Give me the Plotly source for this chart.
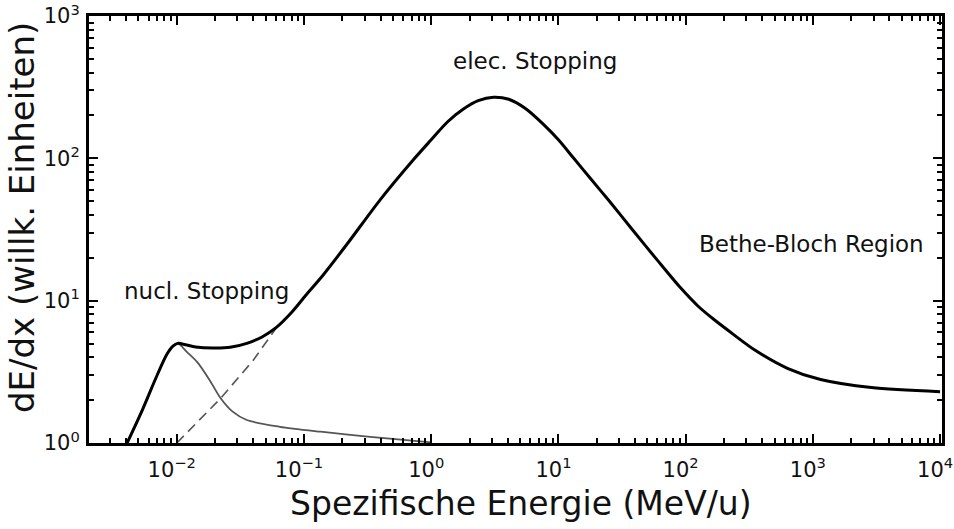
import math
import plotly.graph_objects as go

# Stopping-power curves (energy in MeV/u, dE/dx in arbitrary units)
total_energy = [0.00407, 0.00537, 0.00692, 0.00832, 0.00933, 0.0102, 0.0117, 0.0141,
                0.0191, 0.0263, 0.0355, 0.0468, 0.0603, 0.0794, 0.105, 0.141, 0.219,
                0.398, 0.724, 1.0, 1.34, 1.78, 2.34, 3.09, 4.07, 5.50, 7.59, 10.0,
                13.2, 17.8, 25.1, 37.2, 60.3, 91.2, 126, 166, 240, 347, 631, 1150,
                2880, 10000]
total_dedx = [1.0, 1.71, 2.92, 4.17, 4.79, 5.01, 4.9, 4.73,
              4.65, 4.7, 5.01, 5.56, 6.46, 8.22, 11.1, 15.1, 25.1,
              51.3, 97.7, 135, 180, 221, 254, 269, 260, 224, 174, 135,
              100, 72.4, 50.1, 32.4, 19.1, 12.3, 9.1, 7.4, 5.75, 4.52, 3.35, 2.79,
              2.45, 2.29]

nuclear_energy = [0.00407, 0.00537, 0.00692, 0.00832, 0.00933, 0.0102, 0.0120, 0.0145,
                  0.0182, 0.0219, 0.0275, 0.0355, 0.0646, 0.135, 0.316, 1.0]
nuclear_dedx = [1.0, 1.71, 2.92, 4.17, 4.79, 5.01, 4.37, 3.7,
                2.75, 2.09, 1.66, 1.45, 1.30, 1.20, 1.11, 1.01]

electronic_energy = [0.01, 0.0219, 0.0398, 0.0603]
electronic_dedx = [1.0, 2.04, 3.8, 6.4]

x_tick_values = [0.01, 0.1, 1, 10, 100, 1000, 10000]
x_tick_text = ["10<sup>−2</sup>", "10<sup>−1</sup>", "10<sup>0</sup>", "10<sup>1</sup>",
               "10<sup>2</sup>", "10<sup>3</sup>", "10<sup>4</sup>"]
y_tick_values = [1, 10, 100, 1000]
y_tick_text = ["10<sup>0</sup>", "10<sup>1</sup>", "10<sup>2</sup>", "10<sup>3</sup>"]

region_labels = ["nucl. Stopping", "elec. Stopping", "Bethe-Bloch Region"]
region_label_x = [0.0170, 6.6, 982]
region_label_y = [11.7, 483, 25.0]

FONT = "DejaVu Sans"
INK = "#111111"

W, H = 954, 529
ML, MR, MT, MB = 89, 12, 16, 86


def paper_x(px):
    return (px - ML) / (W - ML - MR)


def paper_y(py):
    return 1 - (py - MT) / (H - MT - MB)


fig = go.Figure()

fig.add_trace(go.Scatter(
    x=electronic_energy, y=electronic_dedx, mode="lines",
    line=dict(color="#555555", width=1.6, dash="10px,6px"),
    hoverinfo="skip", showlegend=False))

fig.add_trace(go.Scatter(
    x=nuclear_energy, y=nuclear_dedx, mode="lines",
    line=dict(color="#555555", width=1.8, shape="spline", smoothing=0.8),
    hoverinfo="skip", showlegend=False))

fig.add_trace(go.Scatter(
    x=total_energy, y=total_dedx, mode="lines",
    line=dict(color="black", width=3, shape="spline", smoothing=0.8),
    hoverinfo="skip", showlegend=False))

# region labels (log axes take log10 positions for annotations)
for label, lx, ly in zip(region_labels, region_label_x, region_label_y):
    fig.add_annotation(x=math.log10(lx), y=math.log10(ly), xref="x", yref="y", text=label,
                       showarrow=False, font=dict(family=FONT, size=23, color=INK),
                       xanchor="center", yanchor="middle")

fig.add_annotation(x=paper_x(521), y=paper_y(503), xref="paper", yref="paper",
                   text="Spezifische Energie (MeV/u)", showarrow=False,
                   xanchor="center", yanchor="middle",
                   font=dict(family=FONT, size=33, color=INK))
fig.add_annotation(x=paper_x(22), y=paper_y(218), xref="paper", yref="paper",
                   text="dE/dx (willk. Einheiten)", textangle=-90, showarrow=False,
                   xanchor="center", yanchor="middle",
                   font=dict(family=FONT, size=34, color=INK))

axis_common = dict(
    type="log", showgrid=False, zeroline=False, automargin=False,
    showline=True, linewidth=3, linecolor="black", mirror="allticks",
    ticks="inside", ticklen=9, tickwidth=2, tickcolor="black",
    tickfont=dict(family=FONT, size=21, color=INK),
    ticklabeloverflow="allow",
    minor=dict(ticks="inside", ticklen=5, tickwidth=1.5, tickcolor="black", dtick="D1"),
)

fig.update_xaxes(range=[-2.69, 4.015], tickmode="array", tickvals=x_tick_values,
                 ticktext=x_tick_text, ticklabelstandoff=6, ticklabelshift=-5,
                 **axis_common)
fig.update_yaxes(range=[0, 3], tickmode="array", tickvals=y_tick_values,
                 ticktext=y_tick_text, ticklabelstandoff=2, **axis_common)

fig.update_layout(
    width=W, height=H,
    margin=dict(l=ML, r=MR, t=MT, b=MB, autoexpand=False),
    paper_bgcolor="white", plot_bgcolor="white",
    showlegend=False,
)

fig.write_html("out.html")
